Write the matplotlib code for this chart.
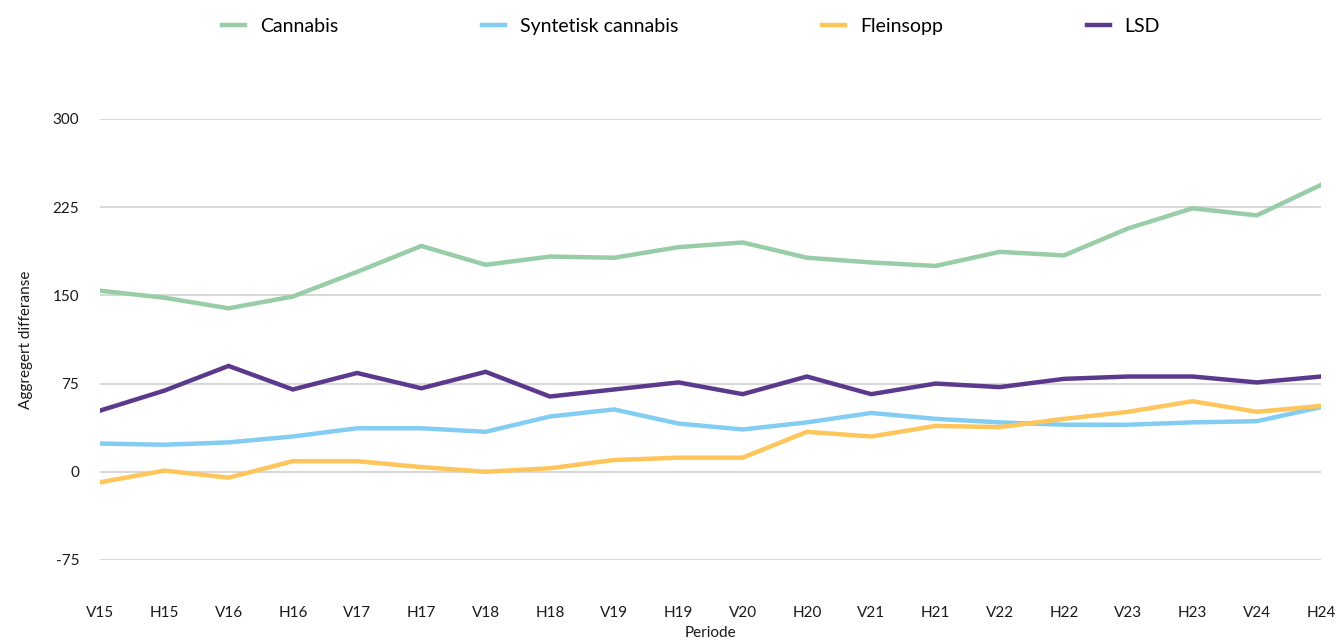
import numpy as np
import matplotlib
matplotlib.use("Agg")
import matplotlib.pyplot as plt

plt.rcParams['font.family'] = ['Lato', 'DejaVu Sans']

periods = ["V15", "H15", "V16", "H16", "V17", "H17", "V18", "H18", "V19", "H19",
           "V20", "H20", "V21", "H21", "V22", "H22", "V23", "H23", "V24", "H24"]

cannabis = [154, 148, 139, 149, 170, 192, 176, 183, 182, 191,
            195, 182, 178, 175, 187, 184, 207, 224, 218, 244]
syntetisk = [24, 23, 25, 30, 37, 37, 34, 47, 53, 41,
             36, 42, 50, 45, 42, 40, 40, 42, 43, 55]
fleinsopp = [-9, 1, -5, 9, 9, 4, 0, 3, 10, 12,
             12, 34, 30, 39, 38, 45, 51, 60, 51, 56]
lsd = [52, 69, 90, 70, 84, 71, 85, 64, 70, 76,
       66, 81, 66, 75, 72, 79, 81, 81, 76, 81]

series = [
    ("Cannabis", cannabis, "#98cda8"),
    ("Syntetisk cannabis", syntetisk, "#82cdf1"),
    ("Fleinsopp", fleinsopp, "#fec55a"),
    ("LSD", lsd, "#5b3a8e"),
]

yticks = [-75, 0, 75, 150, 225, 300]

fig = plt.figure(figsize=(13.39, 6.41), dpi=100)
ax = fig.add_axes([0.0747, 0.1264, 0.9119, 0.688])

x = np.arange(len(periods))
for name, vals, color in series:
    ax.plot(x, vals, color=color, linewidth=3.2, label=name, solid_joinstyle="miter")

ax.set_xlim(0, len(periods) - 1)
ax.set_ylim(-75, 300)
ax.set_yticks(yticks)
ax.set_yticklabels([str(t) for t in yticks])
ax.set_xticks(x)
ax.set_xticklabels(periods)
ax.tick_params(axis="both", length=0, labelsize=11, colors="#1a1a1a")
ax.tick_params(axis="x", pad=33)
ax.tick_params(axis="y", pad=15)
ax.grid(axis="y", color="#d4d4d4", linewidth=1.3)
ax.set_axisbelow(True)
for s in ax.spines.values():
    s.set_visible(False)

ax.set_xlabel("Periode", fontsize=11, color="#1a1a1a")
ax.xaxis.set_label_coords(0.5, -0.15)
ax.set_ylabel("Aggregert differanse", fontsize=11, labelpad=14, color="#1a1a1a")

fig.legend(loc="center", bbox_to_anchor=(0.516, 0.959), ncol=4, frameon=False,
           fontsize=14, handlelength=1.2, handletextpad=0.75, columnspacing=7.4)

fig.savefig("out.png", dpi=100)
